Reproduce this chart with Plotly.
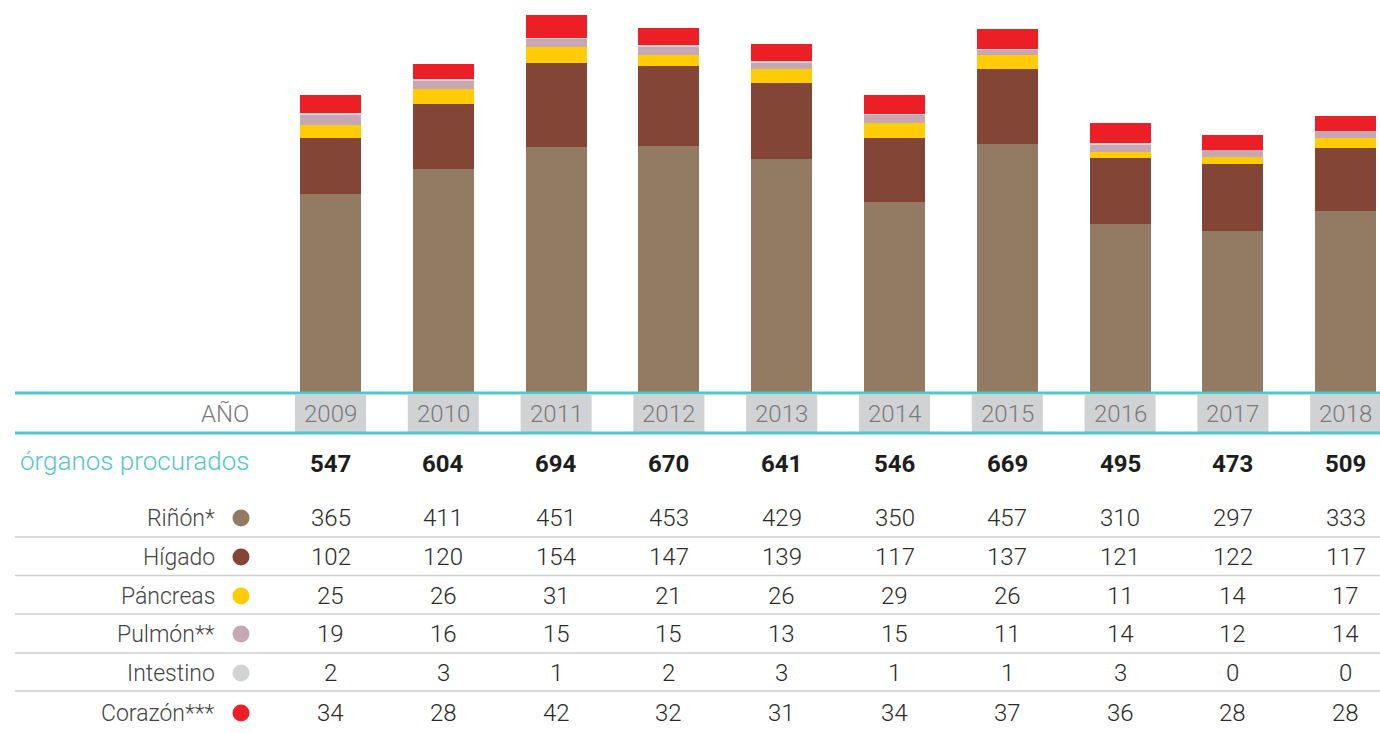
import plotly.graph_objects as go

years = ["2009", "2010", "2011", "2012", "2013", "2014", "2015", "2016", "2017", "2018"]
totals = [547, 604, 694, 670, 641, 546, 669, 495, 473, 509]
rinon = [365, 411, 451, 453, 429, 350, 457, 310, 297, 333]
higado = [102, 120, 154, 147, 139, 117, 137, 121, 122, 117]
pancreas = [25, 26, 31, 21, 26, 29, 26, 11, 14, 17]
pulmon = [19, 16, 15, 15, 13, 15, 11, 14, 12, 14]
intestino = [2, 3, 1, 2, 3, 1, 1, 3, 0, 0]
corazon = [34, 28, 42, 32, 31, 34, 37, 36, 28, 28]

row_labels = ["Riñón*", "Hígado", "Páncreas", "Pulmón**", "Intestino", "Corazón***"]
series = [rinon, higado, pancreas, pulmon, intestino, corazon]
colors = ["#937A62", "#834536", "#FFCC05", "#C7A7B3", "#D1D2D4", "#EC1F26"]

W, H = 1380, 733
TEAL = "#55C5C8"
FONT = "Roboto"


def py(p):
    return 1 - p / H


def pxx(p):
    return p / W


x_idx = list(range(len(years)))

fig = go.Figure()
for name, vals, col in zip(row_labels, series, colors):
    fig.add_trace(go.Bar(x=x_idx, y=vals, name=name, width=0.541,
                         marker=dict(color=col, line=dict(width=0)),
                         showlegend=False, hoverinfo="skip"))

shapes = []
annotations = []

# grey year boxes
for i in x_idx:
    shapes.append(dict(type="rect", xref="x", yref="paper", x0=i - 0.315, x1=i + 0.315,
                       y0=py(432), y1=py(395), fillcolor="#D1D2D4", line=dict(width=0), layer="below"))
# teal lines
for yy in (393, 433):
    shapes.append(dict(type="line", xref="paper", yref="paper", x0=pxx(15), x1=1,
                       y0=py(yy), y1=py(yy), line=dict(color=TEAL, width=3)))
# separator lines
for yy in (537, 575.5, 614, 653, 691):
    shapes.append(dict(type="line", xref="paper", yref="paper", x0=pxx(15), x1=1,
                       y0=py(yy), y1=py(yy), line=dict(color="#CFCFCF", width=1.5)))

row_y = [518, 557, 596, 634, 673, 713]
# dots
for yy, col in zip(row_y, colors):
    shapes.append(dict(type="circle", xref="paper", yref="paper", xsizemode="pixel", ysizemode="pixel",
                       xanchor=pxx(241), yanchor=py(yy), x0=-8.5, x1=8.5, y0=-8.5, y1=8.5,
                       fillcolor=col, line=dict(width=0)))

# header labels
annotations.append(dict(text="AÑO", xref="paper", yref="paper", x=pxx(251), y=py(414),
                        xanchor="right", yanchor="middle", showarrow=False,
                        font=dict(family=FONT, size=24, color="#7A7A7A", weight=300)))
annotations.append(dict(text="órganos procurados", xref="paper", yref="paper", x=pxx(251), y=py(461),
                        xanchor="right", yanchor="middle", showarrow=False,
                        font=dict(family=FONT, size=26, color=TEAL, weight=300)))
for i, (yr, tot) in enumerate(zip(years, totals)):
    annotations.append(dict(text=yr, xref="x", yref="paper", x=i, y=py(414), xanchor="center",
                            yanchor="middle", showarrow=False,
                            font=dict(family=FONT, size=24, color="#7A7A7A", weight=300)))
    annotations.append(dict(text="<b>%d</b>" % tot, xref="x", yref="paper", x=i, y=py(464),
                            xanchor="center", yanchor="middle", showarrow=False,
                            font=dict(family=FONT, size=24, color="#1E1E1E")))

for lab, vals, yy in zip(row_labels, series, row_y):
    annotations.append(dict(text=lab, xref="paper", yref="paper", x=pxx(217), y=py(yy),
                            xanchor="right", yanchor="middle", showarrow=False,
                            font=dict(family=FONT, size=23, color="#444444", weight=300)))
    for i, v in enumerate(vals):
        annotations.append(dict(text=str(v), xref="x", yref="paper", x=i, y=py(yy),
                                xanchor="center", yanchor="middle", showarrow=False,
                                font=dict(family=FONT, size=24, color="#2A2A2A", weight=300)))

base_px = 392
scale = (base_px - 15) / 694.0
fig.update_layout(
    width=W, height=H, autosize=False,
    margin=dict(l=0, r=0, t=0, b=0),
    paper_bgcolor="white", plot_bgcolor="white",
    barmode="stack", bargap=0,
    xaxis=dict(range=[-330.5 / 112.8, (W - 330.5) / 112.8], visible=False, fixedrange=True),
    yaxis=dict(domain=[py(base_px), 1], range=[0, base_px / scale], visible=False, fixedrange=True),
    shapes=shapes, annotations=annotations,
    font=dict(family=FONT),
)

fig.write_html("out.html", config={"displayModeBar": False},
               post_script="document.body.style.margin='0';document.body.style.overflow='hidden';")
